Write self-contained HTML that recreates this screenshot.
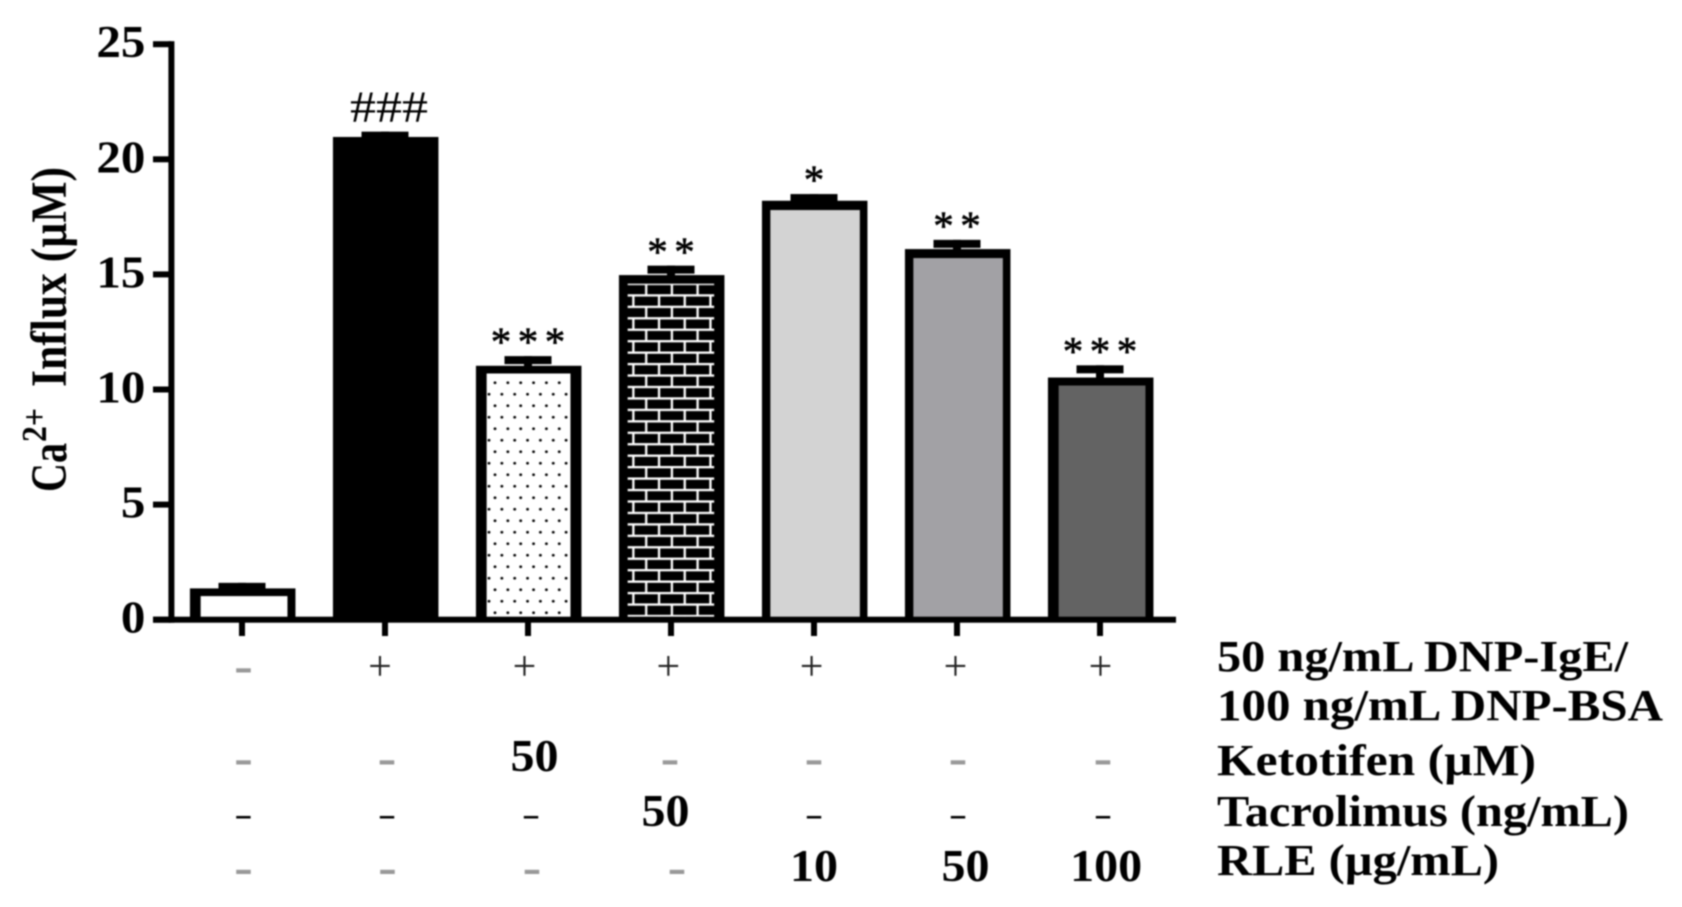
<!DOCTYPE html>
<html lang="en">
<head>
<meta charset="utf-8">
<title>Ca2+ Influx chart</title>
<style>
html,body{margin:0;padding:0;background:#fff;width:1682px;height:907px;overflow:hidden}
svg{display:block;filter:blur(0.7px)}
text{font-family:"Liberation Serif","DejaVu Serif",serif;fill:#000}
</style>
</head>
<body>
<svg id="chart" xmlns="http://www.w3.org/2000/svg" width="1682" height="907" viewBox="0 0 1682 907">
  <defs>
    <pattern id="dots" patternUnits="userSpaceOnUse" x="486" y="377" width="12.85" height="23">
      <rect width="12.85" height="23" fill="#fff"/>
      <circle cx="9" cy="5.75" r="1.4" fill="#000"/>
      <circle cx="3" cy="17.25" r="1.4" fill="#000"/>
    </pattern>
    <pattern id="brick" patternUnits="userSpaceOnUse" x="626" y="282.8" width="25.7" height="22.9">
      <rect width="25.7" height="22.9" fill="#000"/>
      <rect x="0" y="0" width="25.7" height="2.3" fill="#fff"/>
      <rect x="0" y="11.45" width="25.7" height="2.3" fill="#fff"/>
      <rect x="19.05" y="0" width="2.3" height="11.45" fill="#fff"/>
      <rect x="6.2" y="11.45" width="2.3" height="11.45" fill="#fff"/>
    </pattern>
  </defs>
  <g id="bars"></g>
  <g id="axes"></g>
  <g id="sig"></g>
  <g id="table"></g>
  <g id="title" transform="translate(66,0) scale(1.17,1) rotate(-90)">
    <text x="-492" y="0" font-size="43" font-weight="bold" textLength="49" lengthAdjust="spacingAndGlyphs">Ca</text>
    <text x="-442" y="-17" font-size="30" font-weight="bold" textLength="34" lengthAdjust="spacingAndGlyphs">2+</text>
    <text x="-387" y="0" font-size="43" font-weight="bold" textLength="220" lengthAdjust="spacingAndGlyphs">Influx (µM)</text>
  </g>
  <g id="row-labels">
    <text x="1217" y="671" font-size="44" font-weight="bold" textLength="411" lengthAdjust="spacingAndGlyphs">50 ng/mL DNP-IgE/</text>
    <text x="1217" y="720" font-size="44" font-weight="bold" textLength="446" lengthAdjust="spacingAndGlyphs">100 ng/mL DNP-BSA</text>
    <text x="1217" y="775" font-size="44" font-weight="bold" textLength="319" lengthAdjust="spacingAndGlyphs">Ketotifen (µM)</text>
    <text x="1217" y="826" font-size="44" font-weight="bold" textLength="412" lengthAdjust="spacingAndGlyphs">Tacrolimus (ng/mL)</text>
    <text x="1217" y="875" font-size="44" font-weight="bold" textLength="282" lengthAdjust="spacingAndGlyphs">RLE (µg/mL)</text>
  </g>
</svg>
<script>
// ---- chart data ----
const categories = ['control', 'dnp', 'ketotifen', 'tacrolimus', 'rle-10', 'rle-50', 'rle-100'];
const values = [1.36, 20.97, 11.03, 14.97, 18.2, 16.1, 10.52];
const errors = [0.24, 0.23, 0.42, 0.41, 0.29, 0.40, 0.53];
const sigLabels = ['', '###', '***', '**', '*', '**', '***'];
const yTicks = [0, 5, 10, 15, 20, 25];
const yTickLabels = ['0', '5', '10', '15', '20', '25'];
const dnpRow = ['-', '+', '+', '+', '+', '+', '+'];
const ketotifenRow = ['-', '-', '50', '-', '-', '-', '-'];
const tacrolimusRow = ['-', '-', '-', '50', '-', '-', '-'];
const rleRow = ['-', '-', '-', '-', '10', '50', '100'];

// ---- axis functions ----
function xScale(i) { return 242 + 143 * i; }
function yScale(v) { return 619.7 - 23.02 * v; }

// ---- styling ----
const barFills = ['#fff', '#000', 'url(#dots)', 'url(#brick)', '#d3d3d3', '#a2a1a5', '#636363'];
const barBorderLeft = [10.7, 10, 10.7, 8.7, 8.4, 8.4, 10.7];
const barBorderRight = [8, 10, 11, 10.3, 7.6, 7.6, 8];
const barBorderTop = [7.7, 8, 7.7, 8.6, 9.3, 9, 8];
const BAR_W = 105.5, CAP_W = 47, CAP_H = 8, STEM_W = 8;
const NS = 'http://www.w3.org/2000/svg';

function mk(tag, parent) {
  const el = document.createElementNS(NS, tag);
  parent.appendChild(el);
  return el;
}
function setAll(el, props) {
  Object.keys(props).forEach(function (k) { el.setAttribute(k, props[k]); });
}

// ---- bars and error bars ----
const barsG = document.getElementById('bars');
categories.forEach(function (cat, i) {
  const top = yScale(values[i]);
  const base = yScale(0);
  const left = xScale(i) + 0.7 - BAR_W / 2;

  const stem = mk('rect', barsG);
  setAll(stem, { x: xScale(i) - STEM_W / 2, y: yScale(values[i] + errors[i]), width: STEM_W, height: top - yScale(values[i] + errors[i]) + 1, fill: '#000' });
  
  

  const cap = mk('rect', barsG);
  setAll(cap, { x: xScale(i) - CAP_W / 2, y: yScale(values[i] + errors[i]), width: CAP_W, height: CAP_H, fill: '#000' });
  
  

  const bar = mk('rect', barsG);
  setAll(bar, { x: left, y: top, width: BAR_W, height: base - top, fill: '#000' });
  
  

  const fill = mk('rect', barsG);
  setAll(fill, {
    x: left + barBorderLeft[i],
    y: top + barBorderTop[i],
    width: BAR_W - barBorderLeft[i] - barBorderRight[i],
    height: Math.max(0, base - top - barBorderTop[i]),
    fill: barFills[i]
  });
  
  
});

// ---- axes ----
const axesG = document.getElementById('axes');
const yLine = mk('rect', axesG);
setAll(yLine, { x: 168.4, y: yScale(25) - 3, width: 6, height: yScale(0) - yScale(25) + 6, fill: '#000' });



const xLine = mk('rect', axesG);
setAll(xLine, { x: 153, y: yScale(0) - 3, width: 1023, height: 6, fill: '#000' });



yTicks.forEach(function (t, i) {
  const tick = mk('rect', axesG);
  setAll(tick, { x: 153, y: yScale(t) - 3, width: 18, height: 6, fill: '#000' });
  
  

  const label = mk('text', axesG);
  const s = yTickLabels[i];
  setAll(label, { x: 145.4, y: yScale(t) + 13, 'font-size': 45, 'font-weight': 'bold', 'text-anchor': 'end', textLength: s.length * 24.5, lengthAdjust: 'spacingAndGlyphs' });
  label.textContent = s;
  
  
});

categories.forEach(function (cat, i) {
  const tick = mk('rect', axesG);
  setAll(tick, { x: xScale(i) - 3, y: yScale(0), width: 6, height: 16.3, fill: '#000' });
  
  
});

// ---- significance marks ----
const sigG = document.getElementById('sig');
categories.forEach(function (cat, i) {
  const s = sigLabels[i];
  if (!s) return;
  const capTop = yScale(values[i] + errors[i]);
  const t = mk('text', sigG);
  if (s[0] === '#') {
    setAll(t, { x: xScale(i) + 4, y: capTop - 10, 'font-size': 44, 'text-anchor': 'middle', textLength: 78, lengthAdjust: 'spacingAndGlyphs' });
  } else {
    const spacing = 27;
    const xs = [];
    for (let k = 0; k < s.length; k++) {
      xs.push(xScale(i) + (k - (s.length - 1) / 2) * spacing);
    }
    setAll(t, { x: xs.join(' '), y: capTop - 11 + 10.6, 'font-size': 41, 'text-anchor': 'middle', stroke: '#000', 'stroke-width': 0.6 });
  }
  t.textContent = s;
  
  
});

// ---- treatment table ----
const tableG = document.getElementById('table');
const tableRows = [
  { key: 'dnp', cells: dnpRow, cy: 670.7, plusY: 665.7, numBase: 0, nudge: [1.4, -5, -3.5, -2.6, -2.4, -1.5, 0.5], thin: false },
  { key: 'ketotifen', cells: ketotifenRow, cy: 762.7, plusY: 0, numBase: 771, nudge: [1.4, 2, 7, -1, 0, 1, 3], thin: false },
  { key: 'tacrolimus', cells: tacrolimusRow, cy: 817.3, plusY: 0, numBase: 826, nudge: [1.4, 2, 3, -5, 0, 1, 3], thin: true },
  { key: 'rle', cells: rleRow, cy: 872.3, plusY: 0, numBase: 881, nudge: [1.4, 2.5, 4, 6, 0.5, 9, 6.6], thin: false }
];
tableRows.forEach(function (row) {
  row.cells.forEach(function (c, i) {
    const x = xScale(i) + row.nudge[i];
    const t = mk('text', tableG);
    if (c === '-') {
      if (row.thin) {
        setAll(t, { x: x, y: row.cy + 0.225 * 34, 'font-size': 34, 'text-anchor': 'middle', textLength: 18.5, lengthAdjust: 'spacingAndGlyphs', style: 'fill:#000' });
      } else {
        setAll(t, { x: x, y: row.cy + 0.225 * 56, 'font-size': 56, 'text-anchor': 'middle', style: 'fill:#999' });
      }
    } else if (c === '+') {
      setAll(t, { x: x, y: row.plusY + 14.5, 'font-size': 42, 'text-anchor': 'middle', style: 'fill:#222' });
    } else {
      setAll(t, { x: x - 0.5, y: row.numBase, 'font-size': 45, 'font-weight': 'bold', 'text-anchor': 'middle', textLength: c.length * 24, lengthAdjust: 'spacingAndGlyphs' });
    }
    t.textContent = c;
    
    
  });
});
</script>
</body>
</html>
